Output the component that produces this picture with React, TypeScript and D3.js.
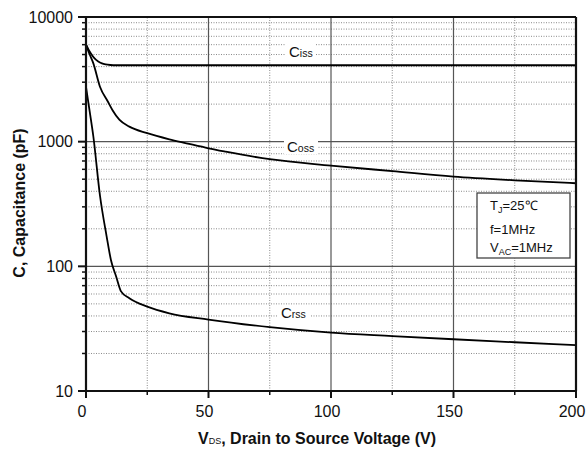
import React from "react";
import * as d3 from "d3";

const cissV = [0, 1, 2, 3.5, 5, 6.5, 8, 10, 12, 20, 50, 100, 150, 200];
const cissC = [6000, 5500, 5100, 4650, 4400, 4250, 4170, 4120, 4100, 4100, 4100, 4100, 4100, 4100];

const cossV = [0, 1.5, 3, 5.7, 8.9, 10.9, 13.6, 17.7, 25, 34, 41, 50, 57, 75, 100, 125, 150, 175, 200];
const cossC = [6000, 5000, 4250, 2760, 2100, 1780, 1500, 1320, 1170, 1045, 971, 885, 832, 723, 643, 580, 524, 490, 464];

const crssV = [0, 1.5, 3, 5.7, 8.4, 10.2, 12.3, 14.3, 17.7, 25, 34, 50, 75, 100, 125, 150, 175, 200];
const crssC = [2750, 1750, 1100, 370, 175, 112, 83, 63, 55.5, 47.5, 42, 37.4, 32.5, 29.4, 27.6, 26, 24.6, 23.3];

const xTicks = [0, 50, 100, 150, 200];
const xMinor = [25, 75, 125, 175];
const yTicks = [10, 100, 1000, 10000];
const yTickLabels = ["10", "100", "1000", "10000"];

const W = 587;
const H = 449;

export default function App() {
  const x = d3.scaleLinear().domain([0, 200]).range([86, 576]);
  const y = d3.scaleLog().domain([10, 10000]).range([391, 17]);
  const yMinor: number[] = [];
  [10, 100, 1000].forEach((d) => {
    for (let k = 2; k <= 9; k++) yMinor.push(d * k);
  });
  const line = d3
    .line<[number, number]>()
    .x((d) => x(d[0]))
    .y((d) => y(d[1]))
    .curve(d3.curveMonotoneX);
  const mk = (vs: number[], cs: number[]) => vs.map((v, i) => [v, cs[i]] as [number, number]);
  const font = "'Liberation Sans', Arial, sans-serif";

  return (
    <svg width={W} height={H} style={{ position: "absolute", left: 0, top: 0, background: "#fff" }} fontFamily={font}>
      <rect x={0} y={0} width={W} height={H} fill="#fff" />
      {/* minor grid */}
      {yMinor.map((v) => (
        <line key={"ym" + v} x1={x(0)} x2={x(200)} y1={y(v)} y2={y(v)} stroke="#8a8a8a" strokeWidth={1} strokeDasharray="1,1.5" />
      ))}
      {xMinor.map((v) => (
        <line key={"xm" + v} x1={x(v)} x2={x(v)} y1={y(10)} y2={y(10000)} stroke="#8a8a8a" strokeWidth={1} strokeDasharray="1,1.5" />
      ))}
      {/* major grid */}
      {[100, 1000].map((v) => (
        <line key={"yg" + v} x1={x(0)} x2={x(200)} y1={y(v)} y2={y(v)} stroke="#555" strokeWidth={1.2} />
      ))}
      {[50, 100, 150].map((v) => (
        <line key={"xg" + v} x1={x(v)} x2={x(v)} y1={y(10)} y2={y(10000)} stroke="#555" strokeWidth={1.2} />
      ))}
      {/* curves */}
      <path d={line(mk(cissV, cissC)) || ""} fill="none" stroke="#000" strokeWidth={1.8} />
      <path d={line(mk(cossV, cossC)) || ""} fill="none" stroke="#000" strokeWidth={1.8} />
      <path d={line(mk(crssV, crssC)) || ""} fill="none" stroke="#000" strokeWidth={1.8} />
      {/* curve labels */}
      <rect x={286} y={44} width={30} height={16} fill="#fff" />
      <text x={289} y={57} fontSize={15} fill="#111">
        C<tspan fontSize={10.5}>iss</tspan>
      </text>
      <rect x={284} y={138} width={34} height={16} fill="#fff" />
      <text x={287} y={151.5} fontSize={15} fill="#111">
        C<tspan fontSize={10.5}>oss</tspan>
      </text>
      <rect x={278} y={305} width={32} height={16} fill="#fff" />
      <text x={281} y={318} fontSize={15} fill="#111">
        C<tspan fontSize={10.5}>rss</tspan>
      </text>
      {/* conditions box */}
      <rect x={477} y={193} width={93} height={65} fill="#fff" stroke="#444" strokeWidth={1.3} />
      <text x={490} y={210} fontSize={13} fill="#111">
        T<tspan fontSize={9} dy={3}>J</tspan>
        <tspan dy={-3}>=25℃</tspan>
      </text>
      <text x={490} y={234} fontSize={13} fill="#111">f=1MHz</text>
      <text x={490} y={252} fontSize={13} fill="#111">
        V<tspan fontSize={9} dy={3}>AC</tspan>
        <tspan dy={-3}>=1MHz</tspan>
      </text>
      {/* frame */}
      <line x1={x(0)} x2={x(200)} y1={y(10000)} y2={y(10000)} stroke="#111" strokeWidth={2.2} />
      <line x1={x(200)} x2={x(200)} y1={y(10)} y2={y(10000)} stroke="#111" strokeWidth={2.2} />
      <line x1={x(0)} x2={x(200)} y1={y(10)} y2={y(10)} stroke="#111" strokeWidth={2.2} />
      <line x1={x(0)} x2={x(0)} y1={y(10) + 1} y2={y(10000) - 1} stroke="#111" strokeWidth={2.2} />
      {/* y ticks */}
      {yTicks.map((v) => (
        <line key={"yt" + v} x1={x(0) - 8} x2={x(0)} y1={y(v)} y2={y(v)} stroke="#111" strokeWidth={2} />
      ))}
      {yMinor.map((v) => (
        <line key={"ytm" + v} x1={x(0) - 4} x2={x(0)} y1={y(v)} y2={y(v)} stroke="#111" strokeWidth={1.5} />
      ))}
      {yTicks.map((v, i) => (
        <text key={"yl" + v} x={73} y={y(v)} dy="0.36em" textAnchor="end" fontSize={16} fill="#111">
          {yTickLabels[i]}
        </text>
      ))}
      {/* x ticks */}
      {xTicks.map((v) => (
        <line key={"xt" + v} x1={x(v)} x2={x(v)} y1={y(10)} y2={y(10) + 7} stroke="#111" strokeWidth={2} />
      ))}
      {xMinor.map((v) => (
        <line key={"xtm" + v} x1={x(v)} x2={x(v)} y1={y(10)} y2={y(10) + 4} stroke="#111" strokeWidth={1.5} />
      ))}
      {xTicks.map((v) => (
        <text key={"xl" + v} x={x(v) - 4} y={417} textAnchor="middle" fontSize={16} fill="#111">
          {v}
        </text>
      ))}
      {/* axis titles */}
      <text x={198} y={444} fontSize={16} fontWeight="bold" fill="#111">
        V<tspan fontSize={9} fontWeight="normal">DS</tspan>
        <tspan>, Drain to Source Voltage (V)</tspan>
      </text>
      <text transform="translate(25,203) rotate(-90)" textAnchor="middle" fontSize={16} fontWeight="bold" fill="#111">
        C, Capacitance (pF)
      </text>
    </svg>
  );
}
